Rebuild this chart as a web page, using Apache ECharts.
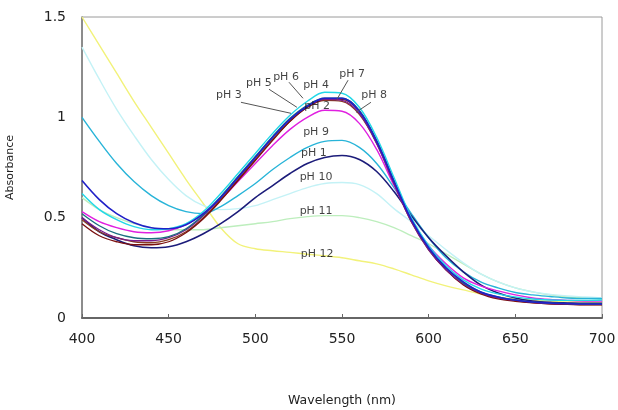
<!DOCTYPE html>
<html>
<head>
<meta charset="utf-8">
<script src="https://cdn.jsdelivr.net/npm/echarts@6/dist/echarts.min.js"></script>
<style>html,body{margin:0;padding:0;background:#fff}#chart{width:618px;height:410px}</style>
</head>
<body>
<div id="chart"></div>
<script>
// Wavelength grid (nm)
var wavelengths = [400,410,420,430,440,450,460,470,480,490,500,510,520,530,540,550,560,570,580,590,600,610,620,630,640,650,660,670,680,690,700];

// Absorbance per pH
var pH1  = [0.50,0.43,0.39,0.36,0.35,0.355,0.38,0.42,0.47,0.53,0.60,0.66,0.72,0.77,0.80,0.81,0.79,0.73,0.63,0.51,0.40,0.31,0.23,0.165,0.125,0.10,0.085,0.078,0.075,0.073,0.073];
var pH2  = [0.53,0.48,0.45,0.43,0.425,0.435,0.465,0.52,0.59,0.68,0.77,0.86,0.94,1.0,1.035,1.03,0.97,0.84,0.66,0.49,0.36,0.27,0.20,0.16,0.135,0.115,0.10,0.092,0.088,0.085,0.085];
var pH3  = [0.49,0.43,0.40,0.38,0.375,0.39,0.43,0.50,0.59,0.69,0.79,0.89,0.98,1.05,1.085,1.08,1.015,0.87,0.67,0.48,0.34,0.24,0.17,0.125,0.10,0.087,0.077,0.071,0.069,0.067,0.067];
var pH4  = [0.62,0.54,0.49,0.455,0.44,0.445,0.47,0.53,0.62,0.72,0.82,0.92,1.01,1.08,1.125,1.12,1.05,0.90,0.70,0.50,0.36,0.26,0.19,0.145,0.12,0.105,0.095,0.09,0.088,0.088,0.09];
var pH5  = [0.50,0.44,0.40,0.385,0.385,0.40,0.44,0.51,0.60,0.70,0.80,0.90,0.99,1.055,1.09,1.085,1.02,0.87,0.67,0.48,0.34,0.24,0.17,0.125,0.10,0.088,0.078,0.072,0.07,0.068,0.068];
var pH6  = [0.47,0.41,0.38,0.365,0.365,0.38,0.425,0.495,0.585,0.685,0.785,0.885,0.98,1.05,1.09,1.09,1.03,0.88,0.68,0.49,0.345,0.24,0.165,0.12,0.095,0.083,0.075,0.07,0.068,0.066,0.066];
var pH7  = [0.52,0.46,0.42,0.40,0.395,0.405,0.445,0.515,0.605,0.705,0.805,0.905,0.995,1.06,1.095,1.095,1.035,0.885,0.685,0.495,0.35,0.25,0.175,0.13,0.105,0.09,0.08,0.075,0.072,0.07,0.07];
var pH8  = [0.685,0.59,0.52,0.475,0.45,0.445,0.465,0.52,0.60,0.70,0.80,0.90,0.99,1.055,1.095,1.095,1.03,0.88,0.68,0.49,0.35,0.25,0.18,0.13,0.105,0.09,0.08,0.075,0.072,0.07,0.07];
var pH9  = [1.0,0.88,0.77,0.68,0.61,0.56,0.53,0.52,0.555,0.61,0.67,0.74,0.80,0.85,0.88,0.885,0.85,0.77,0.65,0.52,0.40,0.30,0.23,0.18,0.15,0.127,0.115,0.107,0.10,0.097,0.097];
var pH10 = [1.35,1.19,1.04,0.91,0.79,0.69,0.61,0.56,0.54,0.545,0.56,0.59,0.62,0.65,0.67,0.675,0.665,0.62,0.545,0.48,0.41,0.34,0.275,0.22,0.18,0.15,0.13,0.118,0.11,0.105,0.10];
var pH11 = [0.60,0.54,0.50,0.47,0.45,0.44,0.44,0.44,0.45,0.46,0.47,0.48,0.495,0.505,0.51,0.51,0.50,0.48,0.45,0.41,0.37,0.32,0.27,0.22,0.18,0.15,0.13,0.115,0.105,0.10,0.095];
var pH12 = [1.5,1.36,1.22,1.08,0.95,0.82,0.69,0.57,0.45,0.37,0.345,0.335,0.327,0.318,0.31,0.30,0.285,0.27,0.245,0.215,0.185,0.16,0.14,0.12,0.105,0.095,0.09,0.085,0.08,0.08,0.075];

var seriesNames = ['pH 1','pH 2','pH 3','pH 4','pH 5','pH 6','pH 7','pH 8','pH 9','pH 10','pH 11','pH 12'];
var seriesValues = [pH1,pH2,pH3,pH4,pH5,pH6,pH7,pH8,pH9,pH10,pH11,pH12];

// Tick labels
var xTicks = [400,450,500,550,600,650,700];
var yTicks = [0,0.5,1,1.5];

// Annotation labels [text, wavelength, absorbance]
var annoText = ['pH 3','pH 5','pH 6','pH 4','pH 7','pH 8','pH 2','pH 9','pH 1','pH 10','pH 11','pH 12'];
var annoX    = [484.8,502.1,517.7,535.0,555.8,568.5,535.6,535.0,533.8,535.0,535.0,535.6];
var annoY    = [1.11,1.17,1.20,1.16,1.215,1.11,1.055,0.925,0.82,0.70,0.535,0.32];
// Leader lines: from (x0,y0) to the point (x1,y1)
var leadX0 = [491.7,507.9,519.4,553.5,566.7];
var leadY0 = [1.075,1.14,1.175,1.185,1.075];
var leadX1 = [520.6,524.0,527.5,547.1,558.1];
var leadY1 = [1.02,1.05,1.095,1.09,1.025];

var colors = {
  'pH 1':'#1c1c7a','pH 2':'#e020e0','pH 3':'#8a3a20','pH 4':'#22d8e8',
  'pH 5':'#7a1a8a','pH 6':'#7a1010','pH 7':'#1a6f80','pH 8':'#2020c8',
  'pH 9':'#28b4d8','pH 10':'#c4f2f6','pH 11':'#bdeebd','pH 12':'#f2f27a'
};
var widths = {'pH 1':1.6,'pH 8':1.6,'pH 3':1.3,'pH 5':1.3,'pH 6':1.3,'pH 7':1.3};

var drawOrder = ['pH 12','pH 11','pH 10','pH 9','pH 1','pH 2','pH 3','pH 6','pH 5','pH 7','pH 4','pH 8'];

var series = drawOrder.map(function(name){
  var vals = seriesValues[seriesNames.indexOf(name)];
  return {
    name: name, type: 'line', smooth: 0.35, symbol: 'none',
    data: wavelengths.map(function(w,i){ return [w, vals[i]]; }),
    lineStyle: { color: colors[name], width: widths[name] || 1.4 },
    itemStyle: { color: colors[name] },
    silent: true, animation: false
  };
});

// Labels
series.push({
  type: 'scatter', symbolSize: 0, silent: true, animation: false, z: 10,
  data: annoText.map(function(t,i){ return { name: t, value: [annoX[i], annoY[i]] }; }),
  label: { show: true, position: 'inside', formatter: '{b}', color: '#111',
           fontFamily: 'DejaVu Sans', fontSize: 11 },
  markLine: {
    silent: true, animation: false, symbol: ['none','circle'], symbolSize: [0,4],
    lineStyle: { color: '#555', width: 1, type: 'solid' },
    itemStyle: { color: '#111' },
    label: { show: false },
    data: leadX0.map(function(x,i){ return [{coord:[x, leadY0[i]]},{coord:[leadX1[i], leadY1[i]]}]; })
  }
});

var chart = echarts.init(document.getElementById('chart'), null, {renderer:'canvas'});
chart.setOption({
  animation: false,
  backgroundColor: '#fff',
  grid: { left: 82, right: 16, top: 17, bottom: 92, show: true, borderColor: '#9a9a9a', borderWidth: 1,
          containLabel: false, outerBoundsMode: 'none' },
  xAxis: {
    type: 'value', min: 400, max: 700, interval: 50,
    name: 'Wavelength (nm)', nameLocation: 'middle', nameGap: 76,
    nameTextStyle: { fontFamily: 'DejaVu Sans', fontSize: 12.5, color: '#222' },
    axisLine: { lineStyle: { color: '#666', width: 2 } },
    axisTick: { inside: true, length: 4, lineStyle: { color: '#666' } },
    axisLabel: { fontFamily: 'DejaVu Sans', fontSize: 14, color: '#222', margin: 14,
      formatter: function(v){ return xTicks.indexOf(v) >= 0 ? String(v) : ''; } },
    splitLine: { show: false }
  },
  yAxis: {
    type: 'value', min: 0, max: 1.5, interval: 0.5,
    name: 'Absorbance', nameLocation: 'middle', nameGap: 66, nameRotate: 90,
    nameTextStyle: { fontFamily: 'DejaVu Sans', fontSize: 11, color: '#222' },
    axisLine: { show: true, lineStyle: { color: '#777', width: 1.5 } },
    axisTick: { show: false },
    axisLabel: { fontFamily: 'DejaVu Sans', fontSize: 14, color: '#222', margin: 16,
      formatter: function(v){ return yTicks.indexOf(v) >= 0 ? String(v) : ''; } },
    splitLine: { show: false }
  },
  series: series
});
</script>
</body>
</html>
